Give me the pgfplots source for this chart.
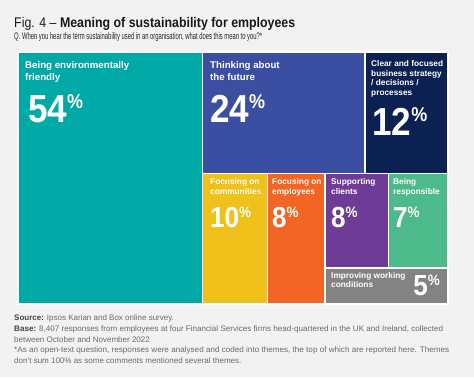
\documentclass[border=0pt]{standalone}
\usepackage{graphicx}
\usepackage{fontspec}
\setmainfont{Liberation Sans}
\usepackage{pgfplots}
\pgfplotsset{compat=1.18}
\definecolor{bg}{HTML}{F2F2F2}
\definecolor{cteal}{HTML}{00A9A5}
\definecolor{cblue}{HTML}{3A4FA2}
\definecolor{cnavy}{HTML}{0B2152}
\definecolor{cyellow}{HTML}{F1C11B}
\definecolor{corange}{HTML}{F26524}
\definecolor{cpurple}{HTML}{6E3C97}
\definecolor{cgreen}{HTML}{4DBA8B}
\definecolor{cgray}{HTML}{838383}
\definecolor{ftxt}{HTML}{6A6A6A}
\definecolor{fbold}{HTML}{444444}
\newcommand\bigpct[1]{\scalebox{0.9}[1]{\fontsize{39bp}{39bp}\selectfont\bfseries #1\raisebox{13.3bp}{\fontsize{20bp}{20bp}\selectfont\%}}}
\newcommand\smpct[1]{\scalebox{0.9}[1]{\fontsize{29bp}{29bp}\selectfont\bfseries #1\raisebox{9.8bp}{\fontsize{15bp}{15bp}\selectfont\%}}}
\newcommand\lab[1]{\fontsize{9.7bp}{12bp}\selectfont\bfseries #1}
\newcommand\slab[1]{\fontsize{8.3bp}{9.6bp}\selectfont\bfseries #1}
\begin{document}
\begin{tikzpicture}[x=1bp,y=1bp]
\useasboundingbox (0,0) rectangle (474,377);
\fill[bg] (0,0) rectangle (474,377);
\begin{axis}[at={(18bp,73bp)}, anchor=south west, scale only axis,
  width=430bp, height=252bp, xmin=0, xmax=430, ymin=0, ymax=252, hide axis,
  clip=false]
\addplot[fill=cteal, draw=white, line width=1.6bp] coordinates {(0,0) (184.5,0) (184.5,252) (0,252)} --cycle;
\addplot[fill=cblue, draw=white, line width=1.6bp] coordinates {(184.5,130.5) (347,130.5) (347,252) (184.5,252)} --cycle;
\addplot[fill=cnavy, draw=white, line width=1.6bp] coordinates {(347,130.5) (430,130.5) (430,252) (347,252)} --cycle;
\addplot[fill=cyellow, draw=white, line width=1.6bp] coordinates {(184.5,0) (249.5,0) (249.5,130.5) (184.5,130.5)} --cycle;
\addplot[fill=corange, draw=white, line width=1.6bp] coordinates {(249.5,0) (307,0) (307,130.5) (249.5,130.5)} --cycle;
\addplot[fill=cpurple, draw=white, line width=1.6bp] coordinates {(307,36) (370.5,36) (370.5,130.5) (307,130.5)} --cycle;
\addplot[fill=cgreen, draw=white, line width=1.6bp] coordinates {(370.5,36) (430,36) (430,130.5) (370.5,130.5)} --cycle;
\addplot[fill=cgray, draw=white, line width=1.6bp] coordinates {(307,0) (430,0) (430,36) (307,36)} --cycle;
\end{axis}
\begin{scope}[every node/.style={inner sep=0pt, anchor=base west, text=white}]
\node at (25,309) {\lab{Being environmentally}};
\node at (25,297) {\lab{friendly}};
\node at (28,255) {\bigpct{54}};
\node at (210,309) {\lab{Thinking about}};
\node at (210,297) {\lab{the future}};
\node at (210,255) {\bigpct{24}};
\node at (371,310.3) {\slab{Clear and focused}};
\node at (371,300.7) {\slab{business strategy}};
\node at (371,291.1) {\slab{/ decisions /}};
\node at (371,281.5) {\slab{processes}};
\node at (372,242) {\bigpct{12}};
\node at (210,192.5) {\slab{Focusing on}};
\node at (210,182.9) {\slab{communities}};
\node at (210,150) {\smpct{10}};
\node at (272,192.5) {\slab{Focusing on}};
\node at (272,182.9) {\slab{employees}};
\node at (272,150) {\smpct{8}};
\node at (331,192.5) {\slab{Supporting}};
\node at (331,182.9) {\slab{clients}};
\node at (331,150) {\smpct{8}};
\node at (393,192.5) {\slab{Being}};
\node at (393,182.9) {\slab{responsible}};
\node at (393,150) {\smpct{7}};
\node at (331,99) {\slab{Improving working}};
\node at (331,89.4) {\slab{conditions}};
\node[anchor=base east] at (440,82) {\smpct{5}};
\end{scope}
\begin{scope}[every node/.style={inner sep=0pt, anchor=base west}]
\node[text=black!90] at (14,350) {\resizebox{281bp}{\height}{\fontsize{14bp}{14bp}\selectfont Fig. 4 -- \textbf{Meaning of sustainability for employees}}};
\node[text=black!85] at (14,338) {\resizebox{248bp}{\height}{\fontsize{9.5bp}{9.5bp}\selectfont Q. When you hear the term sustainability used in an organisation, what does this mean to you?*}};
\begin{scope}[every node/.append style={text=ftxt, font=\fontsize{8bp}{9bp}\selectfont}]
\node at (14,57) {\textcolor{fbold}{\textbf{Source:}} Ipsos Karian and Box online survey.};
\node at (14,46) {\resizebox{429bp}{\height}{\textcolor{fbold}{\textbf{Base:}} 8,407 responses from employees at four Financial Services firms head-quartered in the UK and Ireland, collected}};
\node at (14,35) {between October and November 2022};
\node at (14,24.5) {\resizebox{435bp}{\height}{*As an open-text question, responses were analysed and coded into themes, the top of which are reported here. Themes}};
\node at (14,14) {don't sum 100\% as some comments mentioned several themes.};
\end{scope}
\end{scope}
\end{tikzpicture}
\end{document}
